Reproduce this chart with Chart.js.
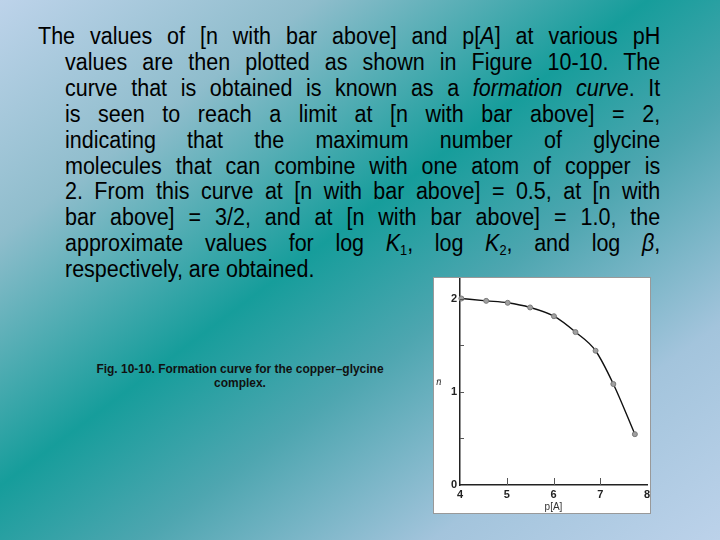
<!DOCTYPE html>
<html>
<head>
<meta charset="utf-8">
<script src="https://cdn.jsdelivr.net/npm/chart.js@4.4.0/dist/chart.umd.min.js"></script>
<style>
  html, body { margin: 0; padding: 0; }
  body {
    width: 720px; height: 540px; overflow: hidden; position: relative;
    background: linear-gradient(to bottom right, #bdd3ea 0%, #8fbdcc 22%, #169d9b 45%, #4ea6b0 60%, #a3c4dc 80%, #bcd2ea 100%);
    font-family: 'Liberation Sans', Arial, sans-serif;
  }
  #txt {
    position: absolute; left: 38px; top: 24px; width: 680px;
    transform: scaleX(0.915); transform-origin: 0 0;
    font-size: 23.5px; line-height: 25.9px; color: #000;
  }
  .ln { text-align: justify; text-align-last: justify; margin-left: 29.5px; }
  .ln.first { margin-left: 0; }
  .ln.last { text-align-last: left; }
  sub { font-size: 14px; vertical-align: -4px; line-height: 0; }
  #cap {
    position: absolute; left: 77px; top: 362px; width: 326px; text-align: center;
    transform: scaleX(0.92); transform-origin: 163px 0;
    font-size: 13px; font-weight: bold; line-height: 14px; color: #111;
  }
  #box {
    position: absolute; left: 433px; top: 277px; width: 216px; height: 235px;
    background: #fff; border: 1px solid #999;
  }
</style>
</head>
<body>
<div id="txt">
  <div class="ln first">The values of [n with bar above] and p[<i>A</i>] at various pH</div>
  <div class="ln">values are then plotted as shown in Figure 10-10. The</div>
  <div class="ln">curve that is obtained is known as a <i>formation curve</i>. It</div>
  <div class="ln">is seen to reach a limit at [n with bar above] = 2,</div>
  <div class="ln">indicating that the maximum number of glycine</div>
  <div class="ln">molecules that can combine with one atom of copper is</div>
  <div class="ln">2. From this curve at [n with bar above] = 0.5, at [n with</div>
  <div class="ln">bar above] = 3/2, and at [n with bar above] = 1.0, the</div>
  <div class="ln">approximate values for log <i>K</i><sub>1</sub>, log <i>K</i><sub>2</sub>, and log <i>β</i>,</div>
  <div class="ln last">respectively, are obtained.</div>
</div>
<div id="cap">Fig. 10-10. Formation curve for the copper–glycine<br>complex.</div>
<div id="box"><canvas id="formationChart" width="216" height="235"></canvas></div>
<script>
// formation curve
const pA = [4.03, 4.56, 5.02, 5.50, 6.01, 6.47, 6.90, 7.28, 7.74];
const nBar = [2.00, 1.975, 1.954, 1.904, 1.81, 1.64, 1.44, 1.083, 0.545];
const xTickMarks = [5, 6, 7];
const yTickMarks = [0.5, 1, 1.5, 2];
const yLabel = 'n\u0304';

// small tick marks pointing into the plot, and the upright n-bar label
const innerTicks = {
  id: 'innerTicks',
  afterDatasetsDraw(chart) {
    const { ctx, scales: { x, y } } = chart;
    ctx.save();
    ctx.strokeStyle = '#555';
    ctx.lineWidth = 1;
    xTickMarks.forEach(v => {
      const px = Math.round(x.getPixelForValue(v)) + 0.5;
      ctx.beginPath();
      ctx.moveTo(px, y.bottom);
      ctx.lineTo(px, y.bottom - 7);
      ctx.stroke();
    });
    yTickMarks.forEach(v => {
      const py = Math.round(y.getPixelForValue(v)) + 0.5;
      ctx.beginPath();
      ctx.moveTo(x.left, py);
      ctx.lineTo(x.left + 4, py);
      ctx.stroke();
    });
    ctx.fillStyle = '#333';
    ctx.font = 'italic 11px "Liberation Serif"';
    ctx.textAlign = 'left';
    ctx.textBaseline = 'middle';
    ctx.fillText(yLabel, y.left + 2, y.getPixelForValue(1.1));
    ctx.restore();
  }
};

const ctx = document.getElementById('formationChart').getContext('2d');
const chart = new Chart(ctx, {
  type: 'line',
  data: {
    datasets: [{
      data: pA.map((v, i) => ({ x: v, y: nBar[i] })),
      borderColor: '#111',
      borderWidth: 1.4,
      cubicInterpolationMode: 'monotone',
      pointRadius: 2.5,
      pointBackgroundColor: '#a0a0a0',
      pointBorderColor: '#7a7a7a',
      pointBorderWidth: 1,
      clip: 6,
    }],
  },
  options: {
    responsive: false,
    animation: false,
    layout: { autoPadding: false, padding: { top: 0, right: 3, left: 0, bottom: 0 } },
    plugins: { legend: { display: false }, tooltip: { enabled: false } },
    scales: {
      x: {
        type: 'linear',
        min: 4,
        max: 8,
        afterFit: s => { s.height = 28; s.paddingLeft = 0; s.paddingRight = 0; },
        grid: { drawOnChartArea: false, drawTicks: false },
        border: { color: '#222', width: 1.5 },
        ticks: { stepSize: 1, padding: 3, color: '#222', font: { size: 11, weight: 'bold', family: 'Liberation Sans' } },
        title: { display: true, text: 'p[A]', padding: 0, color: '#333', font: { size: 10, family: 'Liberation Sans' } },
      },
      y: {
        min: 0,
        max: 2.22,
        afterFit: s => { s.width = 26; s.paddingTop = 0; s.paddingBottom = 0; },
        afterBuildTicks: s => { s.ticks = s.ticks.filter(t => t.value <= 2); },
        grid: { drawOnChartArea: false, drawTicks: false },
        border: { color: '#222', width: 1.5 },
        ticks: {
          stepSize: 0.5,
          padding: 3,
          color: '#222',
          font: { size: 11, weight: 'bold', family: 'Liberation Sans' },
          callback: v => Number.isInteger(v) ? v : '',
        },
      },
    },
  },
  plugins: [innerTicks],
});
</script>
</body>
</html>
